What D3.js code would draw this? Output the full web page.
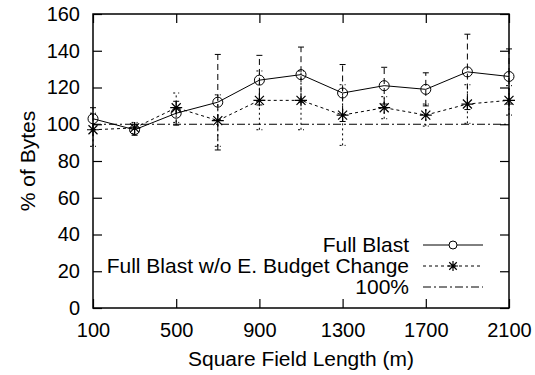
<!DOCTYPE html>
<html>
<head>
<meta charset="utf-8">
<script src="https://cdn.jsdelivr.net/npm/d3@7"></script>
<style>
body { margin: 0; background: #fff; }
text { font-family: "Liberation Sans", Arial, sans-serif; fill: #000; }
</style>
</head>
<body>
<div id="chart"></div>
<script>
var width = 535, height = 375;
var margin = {top: 14, right: 26, bottom: 67, left: 93};

// data
var fieldLength = [100, 300, 500, 700, 900, 1100, 1300, 1500, 1700, 1900, 2100];
var fullBlast = [103, 97, 106, 112, 124, 127, 117, 121, 119, 128.5, 126];
var fullBlastErr = [6, 3, 6.5, 26, 13.5, 15, 15.5, 10, 9, 20.5, 15];
var noBudget = [97, 98, 109, 102, 113, 113, 105, 109, 105, 111, 113];
var noBudgetErr = [9, 3, 8, 14, 16, 16, 16.5, 6, 6, 10.5, 8];
var baseline = 100;
var xTicks = [100, 500, 900, 1300, 1700, 2100];
var yTicks = [0, 20, 40, 60, 80, 100, 120, 140, 160];
var legendLabels = ["Full Blast", "Full Blast w/o E. Budget Change", "100%"];

var svg = d3.select("#chart").append("svg")
	.attr("width", width)
	.attr("height", height);

var x = d3.scaleLinear().domain([100, 2100]).range([margin.left, width - margin.right]);
var y = d3.scaleLinear().domain([0, 160]).range([height - margin.bottom, margin.top]);

var tickLen = 9;

// axes, ticks pointing inwards and mirrored
svg.append("g")
	.attr("class", "labelled")
	.attr("transform", "translate(0," + y(0) + ")")
	.call(d3.axisBottom(x).tickValues(xTicks).tickSize(-tickLen).tickPadding(tickLen + 6).tickFormat(d3.format("d")))
	.call(function(g) { g.select(".domain").remove(); });
svg.append("g")
	.attr("transform", "translate(0," + y(160) + ")")
	.call(d3.axisTop(x).tickValues(xTicks).tickSize(-tickLen).tickFormat(""))
	.call(function(g) { g.select(".domain").remove(); });
svg.append("g")
	.attr("class", "labelled")
	.attr("transform", "translate(" + x(100) + ",0)")
	.call(d3.axisLeft(y).tickValues(yTicks).tickSize(-tickLen).tickPadding(tickLen + 4))
	.call(function(g) { g.select(".domain").remove(); });
svg.append("g")
	.attr("transform", "translate(" + x(2100) + ",0)")
	.call(d3.axisRight(y).tickValues(yTicks).tickSize(-tickLen).tickFormat(""))
	.call(function(g) { g.select(".domain").remove(); });

svg.selectAll(".tick line").attr("stroke", "#000").attr("stroke-width", 1.2);
svg.selectAll(".labelled .tick text").attr("font-size", 20).attr("font-family", "Liberation Sans, Arial, sans-serif");

// frame
svg.append("rect")
	.attr("x", x(100))
	.attr("y", y(160))
	.attr("width", x(2100) - x(100))
	.attr("height", y(0) - y(160))
	.attr("fill", "none")
	.attr("stroke", "#000")
	.attr("stroke-width", 1.5);

// axis titles
svg.append("text")
	.attr("x", (x(100) + x(2100)) / 2)
	.attr("y", 366)
	.attr("text-anchor", "middle")
	.attr("font-size", 20)
	.attr("textLength", 226)
	.attr("lengthAdjust", "spacingAndGlyphs")
	.text("Square Field Length (m)");
svg.append("text")
	.attr("transform", "translate(35," + y(80) + ") rotate(-90)")
	.attr("text-anchor", "middle")
	.attr("font-size", 21)
	.text("% of Bytes");

// 100% line
svg.append("line")
	.attr("x1", x(100)).attr("x2", x(2100))
	.attr("y1", y(baseline)).attr("y2", y(baseline))
	.attr("stroke", "#000")
	.attr("stroke-dasharray", "8,3,2,3");

var capW = 3;

function errorBars(vals, errs, dash) {
	var g = svg.append("g").attr("stroke", "#000").attr("stroke-width", 1).attr("stroke-dasharray", dash);
	fieldLength.forEach(function(d, i) {
		var lo = vals[i] - errs[i], hi = vals[i] + errs[i];
		g.append("line").attr("x1", x(d)).attr("x2", x(d)).attr("y1", y(lo)).attr("y2", y(hi));
		g.append("line").attr("x1", x(d) - capW).attr("x2", x(d) + capW).attr("y1", y(lo)).attr("y2", y(lo));
		g.append("line").attr("x1", x(d) - capW).attr("x2", x(d) + capW).attr("y1", y(hi)).attr("y2", y(hi));
	});
}

errorBars(fullBlast, fullBlastErr, "6,4");
errorBars(noBudget, noBudgetErr, "2,3");

var line = d3.line()
	.x(function(d, i) { return x(fieldLength[i]); })
	.y(function(d) { return y(d); });

svg.append("path")
	.datum(noBudget)
	.attr("d", line)
	.attr("fill", "none")
	.attr("stroke", "#000")
	.attr("stroke-dasharray", "3,3");

svg.append("path")
	.datum(fullBlast)
	.attr("d", line)
	.attr("fill", "none")
	.attr("stroke", "#000");

function asterisk(g, cx, cy, r) {
	var d = r * 0.75;
	var p = "M" + (cx - r) + "," + cy + "H" + (cx + r) +
		"M" + cx + "," + (cy - r) + "V" + (cy + r) +
		"M" + (cx - d) + "," + (cy - d) + "L" + (cx + d) + "," + (cy + d) +
		"M" + (cx - d) + "," + (cy + d) + "L" + (cx + d) + "," + (cy - d);
	g.append("path").attr("d", p).attr("stroke", "#000").attr("stroke-width", 1.2).attr("fill", "none");
}

var markers = svg.append("g");
noBudget.forEach(function(v, i) { asterisk(markers, x(fieldLength[i]), y(v), 6); });
markers.selectAll("circle")
	.data(fullBlast)
	.enter()
	.append("circle")
	.attr("cx", function(d, i) { return x(fieldLength[i]); })
	.attr("cy", function(d) { return y(d); })
	.attr("r", 5)
	.attr("fill", "none")
	.attr("stroke", "#000");

// legend
var legX = 409, legY = 245, legStep = 21, lx1 = 423, lx2 = 483;
var legend = svg.append("g");
legendLabels.forEach(function(lbl, i) {
	var ly = legY + i * legStep;
	legend.append("text")
		.attr("x", legX)
		.attr("y", ly)
		.attr("dy", "0.35em")
		.attr("text-anchor", "end")
		.attr("font-size", 21)
		.text(lbl);
	var ln = legend.append("line")
		.attr("x1", lx1).attr("x2", lx2)
		.attr("y1", ly).attr("y2", ly)
		.attr("stroke", "#000");
	if (i == 1) ln.attr("stroke-dasharray", "3,3");
	if (i == 2) ln.attr("stroke-dasharray", "8,3,2,3");
});
legend.append("circle")
	.attr("cx", (lx1 + lx2) / 2).attr("cy", legY)
	.attr("r", 4).attr("fill", "#fff").attr("stroke", "#000");
asterisk(legend, (lx1 + lx2) / 2, legY + legStep, 5);
</script>
</body>
</html>
